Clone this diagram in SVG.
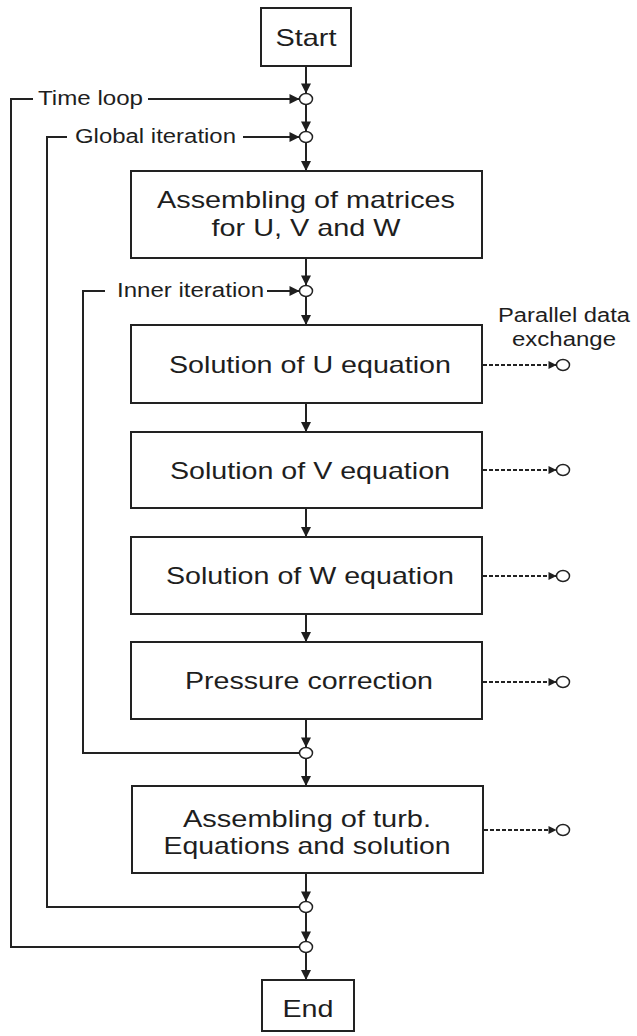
<svg xmlns="http://www.w3.org/2000/svg" width="637" height="1036" viewBox="0 0 637 1036">
<style>
.box{fill:#fff;stroke:#222;stroke-width:2}
.t{font-family:"Liberation Sans",Arial,sans-serif;font-size:24px;fill:#1e1e1e;text-anchor:middle}
.s{font-family:"Liberation Sans",Arial,sans-serif;font-size:20px;fill:#1e1e1e}
.ln{fill:none;stroke:#222;stroke-width:2}
.dl{fill:none;stroke:#222;stroke-width:1.8;stroke-dasharray:4,2}
.jn{fill:#fff;stroke:#222;stroke-width:1.5}
</style>
<defs>
<marker id="ah" viewBox="0 0 10 10" refX="10" refY="5" markerWidth="11" markerHeight="10" markerUnits="userSpaceOnUse" orient="auto">
<path d="M0,0 L10,5 L0,10 z" fill="#1e1e1e"/>
</marker>
<marker id="ahs" viewBox="0 0 10 10" refX="10" refY="5" markerWidth="11" markerHeight="8" markerUnits="userSpaceOnUse" orient="auto">
<path d="M0,0 L10,5 L0,10 z" fill="#1e1e1e"/>
</marker>
</defs>

<g id="connectors">
<line class="ln" x1="306" y1="66" x2="306" y2="93.5" marker-end="url(#ah)"/>
<line class="ln" x1="306" y1="104.5" x2="306" y2="131.5" marker-end="url(#ah)"/>
<line class="ln" x1="306" y1="142.5" x2="306" y2="171" marker-end="url(#ah)"/>
<line class="ln" x1="306" y1="258" x2="306" y2="285.5" marker-end="url(#ah)"/>
<line class="ln" x1="306" y1="296.5" x2="306" y2="325" marker-end="url(#ah)"/>
<line class="ln" x1="306" y1="403" x2="306" y2="432" marker-end="url(#ah)"/>
<line class="ln" x1="306" y1="508" x2="306" y2="537" marker-end="url(#ah)"/>
<line class="ln" x1="306" y1="614" x2="306" y2="642" marker-end="url(#ah)"/>
<line class="ln" x1="306" y1="719" x2="306" y2="747.5" marker-end="url(#ah)"/>
<line class="ln" x1="306" y1="758.5" x2="306" y2="786" marker-end="url(#ah)"/>
<line class="ln" x1="306" y1="873" x2="306" y2="901.5" marker-end="url(#ah)"/>
<line class="ln" x1="306" y1="912.5" x2="306" y2="941.5" marker-end="url(#ah)"/>
<line class="ln" x1="306" y1="952.5" x2="306" y2="980" marker-end="url(#ah)"/>
<polyline class="ln" points="299.5,947 11,947 11,99 33,99"/>
<line class="ln" x1="148" y1="99" x2="299.5" y2="99" marker-end="url(#ah)"/>
<polyline class="ln" points="299.5,907 47,907 47,137 67,137"/>
<line class="ln" x1="243" y1="137" x2="299.5" y2="137" marker-end="url(#ah)"/>
<polyline class="ln" points="299.5,753 83,753 83,291 105,291"/>
<line class="ln" x1="267" y1="291" x2="299.5" y2="291" marker-end="url(#ah)"/>
<line class="dl" x1="483" y1="365" x2="556.5" y2="365" marker-end="url(#ahs)"/>
<line class="dl" x1="483" y1="470" x2="556.5" y2="470" marker-end="url(#ahs)"/>
<line class="dl" x1="483" y1="576" x2="556.5" y2="576" marker-end="url(#ahs)"/>
<line class="dl" x1="483" y1="682" x2="556.5" y2="682" marker-end="url(#ahs)"/>
<line class="dl" x1="484" y1="830" x2="556.5" y2="830" marker-end="url(#ahs)"/>
<ellipse class="jn" cx="306" cy="99" rx="6.5" ry="5.5"/>
<ellipse class="jn" cx="306" cy="137" rx="6.5" ry="5.5"/>
<ellipse class="jn" cx="306" cy="291" rx="6.5" ry="5.5"/>
<ellipse class="jn" cx="306" cy="753" rx="6.5" ry="5.5"/>
<ellipse class="jn" cx="306" cy="907" rx="6.5" ry="5.5"/>
<ellipse class="jn" cx="306" cy="947" rx="6.5" ry="5.5"/>
<ellipse class="jn" cx="563" cy="365" rx="6.5" ry="5.5"/>
<ellipse class="jn" cx="563" cy="470" rx="6.5" ry="5.5"/>
<ellipse class="jn" cx="563" cy="576" rx="6.5" ry="5.5"/>
<ellipse class="jn" cx="563" cy="682" rx="6.5" ry="5.5"/>
<ellipse class="jn" cx="563" cy="830" rx="6.5" ry="5.5"/>
<text class="s" x="38" y="105" textLength="105" lengthAdjust="spacingAndGlyphs">Time loop</text>
<text class="s" x="75" y="143" textLength="161" lengthAdjust="spacingAndGlyphs">Global iteration</text>
<text class="s" x="117" y="297" textLength="147" lengthAdjust="spacingAndGlyphs">Inner iteration</text>
<text class="s" x="498" y="322" textLength="132" lengthAdjust="spacingAndGlyphs">Parallel data</text>
<text class="s" x="512" y="346" textLength="104" lengthAdjust="spacingAndGlyphs">exchange</text>
</g>

<g id="start">
<rect class="box" x="261" y="8" width="90" height="58"/>
<text class="t" x="306" y="45.5" textLength="61" lengthAdjust="spacingAndGlyphs">Start</text>
</g>
<g id="assemble-uvw">
<rect class="box" x="131" y="171" width="351" height="87"/>
<text class="t" x="306" y="208" textLength="298" lengthAdjust="spacingAndGlyphs">Assembling of matrices</text>
<text class="t" x="306" y="236" textLength="189" lengthAdjust="spacingAndGlyphs">for U, V and W</text>
</g>
<g id="solve-u">
<rect class="box" x="131" y="325" width="351" height="78"/>
<text class="t" x="310" y="372.5" textLength="282" lengthAdjust="spacingAndGlyphs">Solution of U equation</text>
</g>
<g id="solve-v">
<rect class="box" x="131" y="432" width="351" height="76"/>
<text class="t" x="310" y="478.5" textLength="280" lengthAdjust="spacingAndGlyphs">Solution of V equation</text>
</g>
<g id="solve-w">
<rect class="box" x="131" y="537" width="351" height="77"/>
<text class="t" x="310" y="584" textLength="288" lengthAdjust="spacingAndGlyphs">Solution of W equation</text>
</g>
<g id="pressure">
<rect class="box" x="131" y="642" width="351" height="77"/>
<text class="t" x="309" y="689" textLength="248" lengthAdjust="spacingAndGlyphs">Pressure correction</text>
</g>
<g id="turb">
<rect class="box" x="132" y="786" width="351" height="87"/>
<text class="t" x="307" y="827" textLength="248" lengthAdjust="spacingAndGlyphs">Assembling of turb.</text>
<text class="t" x="307" y="854" textLength="287" lengthAdjust="spacingAndGlyphs">Equations and solution</text>
</g>
<g id="end">
<rect class="box" x="262" y="980" width="92" height="51"/>
<text class="t" x="308" y="1017" textLength="51" lengthAdjust="spacingAndGlyphs">End</text>
</g>
</svg>
